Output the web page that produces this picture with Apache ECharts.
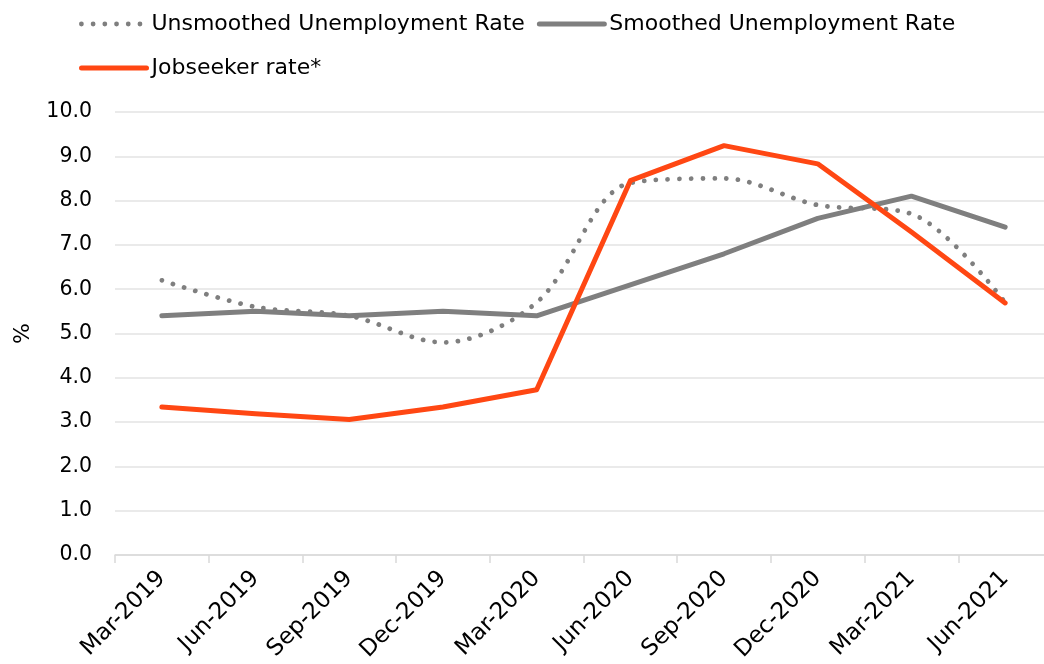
<!DOCTYPE html>
<html>
<head>
<meta charset="utf-8">
<title>Unemployment and jobseeker rates</title>
<script src="https://cdn.jsdelivr.net/npm/echarts@6/dist/echarts.min.js"></script>
<style>
  html, body { margin: 0; padding: 0; background: #fff; overflow: hidden; }
  /* The plot area runs a few pixels past the right edge of the page */
  #chart { width: 1052px; height: 664px; }
</style>
</head>
<body>
<div id="chart"></div>
<script>
// Quarter labels along the x axis
const quarters = ['Mar-2019', 'Jun-2019', 'Sep-2019', 'Dec-2019', 'Mar-2020',
                  'Jun-2020', 'Sep-2020', 'Dec-2020', 'Mar-2021', 'Jun-2021'];

// Rates, in per cent
const unsmoothedRate = [6.2, 5.6, 5.4, 4.8, 5.7, 8.4, 8.5, 7.9, 7.7, 5.7];
const smoothedRate   = [5.4, 5.5, 5.4, 5.5, 5.4, 6.1, 6.8, 7.6, 8.1, 7.4];
const jobseekerRate  = [3.34, 3.19, 3.06, 3.34, 3.73, 8.45, 9.24, 8.83, 7.29, 5.69];

// Series names as shown in the legend
const seriesNames = ['Unsmoothed Unemployment Rate', 'Smoothed Unemployment Rate', 'Jobseeker rate*'];

const FONT = '"DejaVu Sans", "Liberation Sans", sans-serif';
const GREY = '#7f7f7f';
const ORANGE = '#ff4713';
const GRID_GREY = '#e3e3e3';
const DOTS = [0.01, 11.7];

const chart = echarts.init(document.getElementById('chart'), null, { renderer: 'canvas' });

const legendText = { fontFamily: FONT, fontSize: 22, color: '#000', lineHeight: 24, padding: [0, 0, 0, 0] };
const hiddenSymbol = { opacity: 0 };

chart.setOption({
  animation: false,
  backgroundColor: '#fff',
  textStyle: { fontFamily: FONT },
  legend: [
    {
      data: [
        { name: seriesNames[0], itemStyle: hiddenSymbol,
          lineStyle: { color: GREY, width: 4.8, type: DOTS, cap: 'round' } },
        { name: seriesNames[1], itemStyle: hiddenSymbol,
          lineStyle: { color: GREY, width: 5, cap: 'round' } }
      ],
      left: 74, top: 7,
      itemWidth: 65, itemHeight: 14, itemGap: 12,
      textStyle: legendText
    },
    {
      data: [
        { name: seriesNames[2], itemStyle: hiddenSymbol,
          lineStyle: { color: ORANGE, width: 5, cap: 'round' } }
      ],
      left: 74, top: 51,
      itemWidth: 65, itemHeight: 14,
      textStyle: legendText
    }
  ],
  grid: { left: 115, right: 0, top: 112, bottom: 107, containLabel: false },
  xAxis: {
    type: 'category',
    data: quarters,
    boundaryGap: true,
    axisLine: { lineStyle: { color: '#d9d9d9', width: 1.5 } },
    axisTick: { show: true, length: 8, lineStyle: { color: '#d9d9d9', width: 1.5 } },
    axisLabel: { rotate: 45, fontSize: 23, color: '#000', margin: 20, fontFamily: FONT, interval: 0 }
  },
  yAxis: {
    type: 'value',
    min: 0, max: 10, interval: 1,
    name: '%',
    nameLocation: 'middle',
    nameRotate: 90,
    nameGap: 81,
    nameTextStyle: { fontSize: 22, color: '#000', fontFamily: FONT },
    axisLine: { show: false },
    axisTick: { show: false },
    axisLabel: {
      fontSize: 20.5, color: '#000', margin: 23, fontFamily: FONT,
      formatter: v => v.toFixed(1)
    },
    splitLine: { lineStyle: { color: GRID_GREY, width: 1.5 } }
  },
  series: [
    {
      name: seriesNames[0],
      type: 'line',
      data: unsmoothedRate,
      smooth: 0.33,
      symbol: 'none',
      color: GREY,
      lineStyle: { color: GREY, width: 4.8, type: DOTS, cap: 'round' },
      z: 2
    },
    {
      name: seriesNames[1],
      type: 'line',
      data: smoothedRate,
      symbol: 'none',
      color: GREY,
      lineStyle: { color: GREY, width: 5, cap: 'round', join: 'round' },
      z: 3
    },
    {
      name: seriesNames[2],
      type: 'line',
      data: jobseekerRate,
      symbol: 'none',
      color: ORANGE,
      lineStyle: { color: ORANGE, width: 5, cap: 'round', join: 'round' },
      z: 4
    }
  ]
});
</script>
</body>
</html>
